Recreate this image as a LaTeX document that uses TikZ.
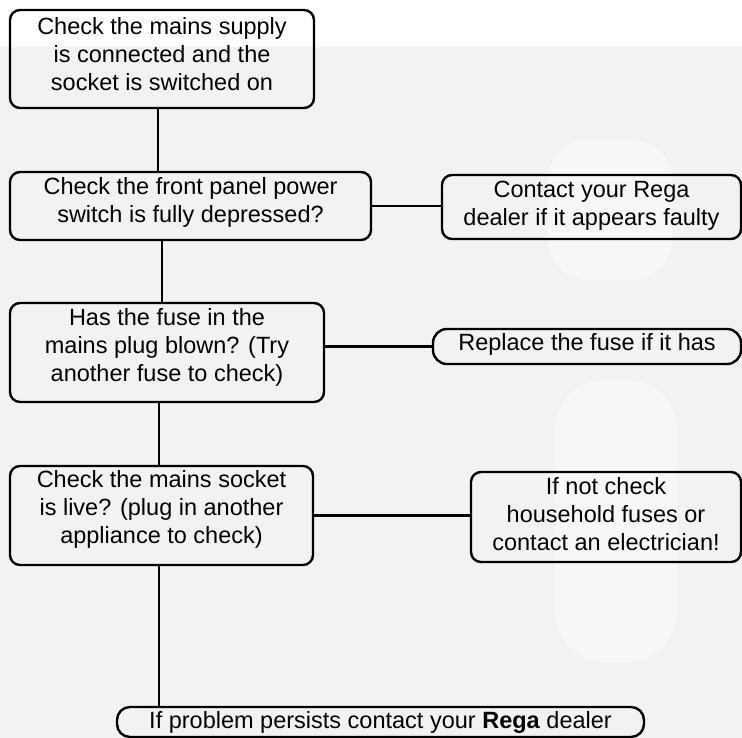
\documentclass[tikz,border=0pt]{standalone}
\usepackage{fontspec}
\setmainfont{Liberation Sans}
\newcommand{\liftup}[2]{\raisebox{#1}[\height][\depth]{\begin{tabular}{@{}c@{}}#2\end{tabular}}}
\begin{document}
\begin{tikzpicture}[x=1pt,y=-1pt,
  box/.style={draw=black, line width=2.4pt, rounded corners=10pt, fill=none,
    align=center, inner sep=0pt, font=\fontsize{23.5}{28}\selectfont},
  conn/.style={draw=black, line width=2.2pt}]
\useasboundingbox (0,0) rectangle (742,738);
\fill[white] (0,0) rectangle (742,738);
\fill[gray!10] (0,47) rectangle (742,738);
\fill[white, opacity=0.4, rounded corners=40pt] (548,140) rectangle (672,280);
\fill[white, opacity=0.4, rounded corners=50pt] (555,380) rectangle (677,662);

\node[box, minimum width=304pt, minimum height=98pt] (n1) at (162,59)
  {\liftup{2pt}{Check the mains supply\\is connected and the\\socket is switched on}};
\node[box, minimum width=361pt, minimum height=68pt] (n2) at (190.5,206)
  {\liftup{3pt}{Check the front panel power\\switch is fully depressed?}};
\node[box, minimum width=299pt, minimum height=64pt] (n3) at (591.5,207)
  {\liftup{1.5pt}{Contact your Rega\\dealer if it appears faulty}};
\node[box, minimum width=314pt, minimum height=99pt] (n4) at (167,352.5)
  {\liftup{5pt}{Has the fuse in the\\mains plug blown? (Try\\another fuse to check)}};
\node[box, minimum width=308pt, minimum height=35pt, rounded corners=14pt] (n5) at (587,346.5)
  {\liftup{1.5pt}{Replace the fuse if it has}};
\node[box, minimum width=303pt, minimum height=99pt] (n6) at (161.5,515.5)
  {\liftup{6pt}{Check the mains socket\\is live? (plug in another\\appliance to check)}};
\node[box, minimum width=270pt, minimum height=90pt] (n7) at (606,517)
  {\liftup{0pt}{If not check\\household fuses or\\contact an electrician!}};
\node[box, minimum width=527pt, minimum height=30pt, rounded corners=13pt] (n8) at (380.5,722)
  {If problem persists contact your \textbf{Rega} dealer};

\draw[conn] ([xshift=-4pt]n1.south) -- ([xshift=-4pt]n1.south |- n2.north);
\draw[conn] ([xshift=-28.5pt]n2.south) -- ([xshift=-28.5pt]n2.south |- n4.north);
\draw[conn] ([xshift=-8pt]n4.south) -- ([xshift=-8pt]n4.south |- n6.north);
\draw[conn] ([xshift=-2.5pt]n6.south) -- ([xshift=-2.5pt]n6.south |- n8.north);
\draw[conn] (n2.east) -- (n2.east -| n3.west);
\draw[conn] (n5.west -| n4.east) -- (n5.west);
\draw[conn] (n6.east) -- (n6.east -| n7.west);
\end{tikzpicture}
\end{document}
